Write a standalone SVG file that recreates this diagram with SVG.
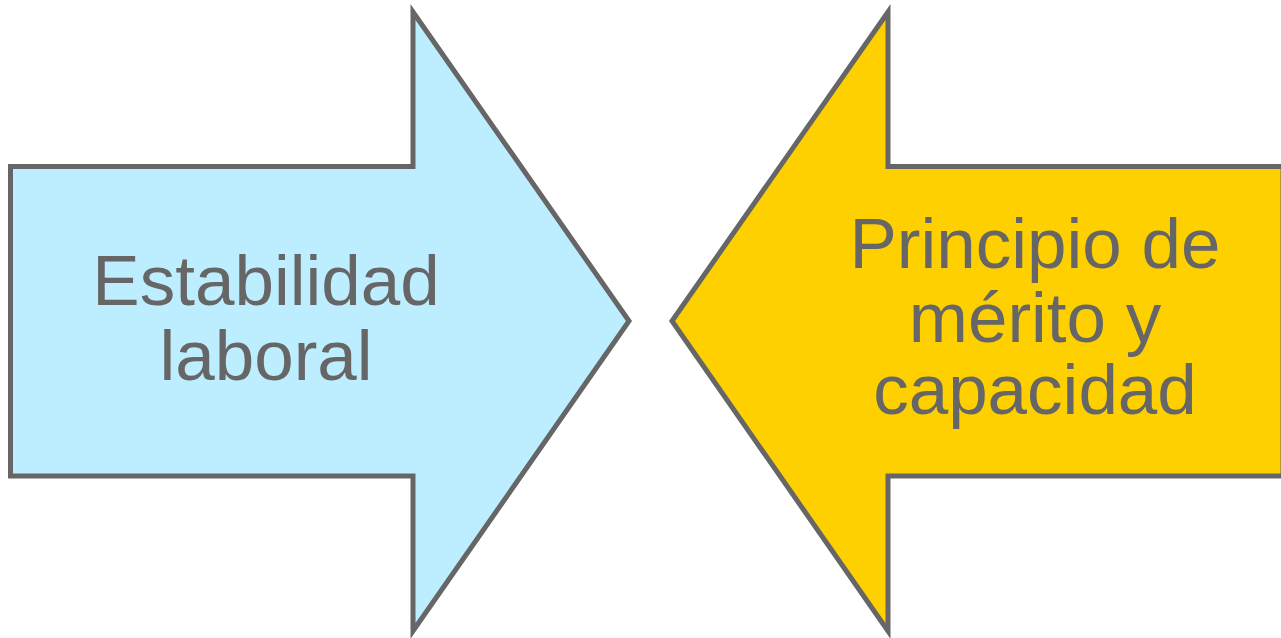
<svg xmlns="http://www.w3.org/2000/svg" width="1281" height="638" viewBox="0 0 1281 638">
<style>
.arrow{stroke:#666666;stroke-width:5;stroke-linejoin:miter}
.lbl{font-family:"Liberation Sans",Arial,sans-serif;font-size:71px;fill:#666666;text-anchor:middle}
</style>
<rect width="1281" height="638" fill="#ffffff"/>
<g id="node-estabilidad">
<polygon class="arrow" fill="#bdeeff" points="10.5,166.5 413,166.5 413,12 629,321 413,631 413,476 10.5,476"/>
<text class="lbl" x="266" y="305">Estabilidad</text>
<text class="lbl" x="266" y="380">laboral</text>
</g>
<g id="node-principio">
<polygon class="arrow" fill="#ffd000" points="1283,166.5 888,166.5 888,12 672,321 888,631 888,476 1283,476"/>
<text class="lbl" x="1035" y="268">Principio de</text>
<text class="lbl" x="1035" y="342">mérito y</text>
<text class="lbl" x="1035" y="414">capacidad</text>
</g>
<g id="connectors"/>
</svg>
